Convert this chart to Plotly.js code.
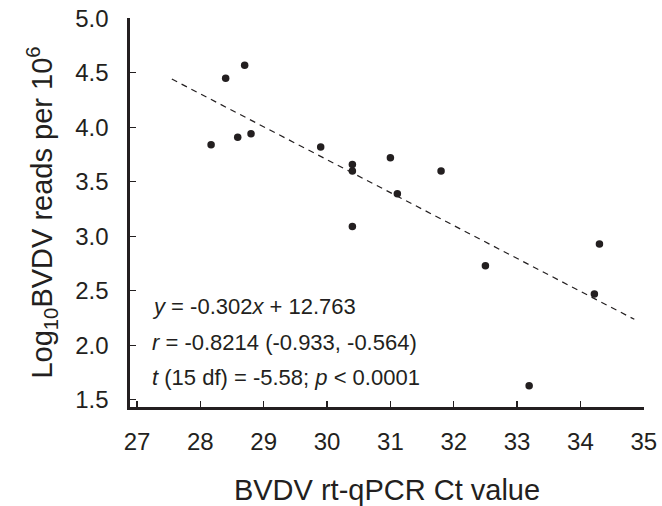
<!DOCTYPE html>
<html>
<head>
<meta charset="utf-8">
<script src="https://cdn.plot.ly/plotly-3.0.1.min.js"></script>
<style>html,body{margin:0;padding:0;background:#fff;}#chart{width:662px;height:506px;}</style>
</head>
<body>
<div id="chart"></div>
<script>
// Data
const ctValues   = [28.17, 28.40, 28.70, 28.59, 28.80, 29.90, 30.40, 30.40, 31.00, 30.40, 31.80, 31.11, 34.30, 32.50, 34.22, 33.19];
const logReads   = [3.84, 4.45, 4.57, 3.91, 3.94, 3.82, 3.66, 3.60, 3.72, 3.09, 3.60, 3.39, 2.93, 2.73, 2.47, 1.63];
const fitSlope = -0.302;
const fitIntercept = 12.763;
const fitXRange = [27.55, 34.85];
const xTicks = [27, 28, 29, 30, 31, 32, 33, 34, 35];
const yTicks = [1.5, 2.0, 2.5, 3.0, 3.5, 4.0, 4.5, 5.0];
const statLines = [
  '<i>y</i> = -0.302<i>x</i> + 12.763',
  '<i>r</i> = -0.8214 (-0.933, -0.564)',
  '<i>t</i> (15 df) = -5.58; <i>p</i> &lt; 0.0001'
];

const fitY = fitXRange.map(x => fitSlope * x + fitIntercept);
const ink = '#231f20';
const fontFam = '"Liberation Sans", Arial, sans-serif';

const traces = [
  {
    x: fitXRange, y: fitY, mode: 'lines', type: 'scatter',
    line: {color: ink, width: 1.2, dash: '6px,5px'},
    hoverinfo: 'skip', showlegend: false
  },
  {
    x: ctValues, y: logReads, mode: 'markers', type: 'scatter',
    marker: {color: ink, size: 7.5, symbol: 'circle'},
    showlegend: false
  }
];

const annYs = [0.258, 0.165, 0.077];
const annotations = statLines.map((t, i) => ({
  text: t, xref: 'paper', yref: 'paper', x: 0.039, y: annYs[i],
  xanchor: 'left', yanchor: 'middle', showarrow: false,
  font: {family: fontFam, size: 22, color: ink}
}));

const layout = {
  width: 662, height: 506,
  margin: {l: 130, r: 18, t: 18, b: 99},
  paper_bgcolor: '#fff', plot_bgcolor: '#fff',
  font: {family: fontFam, color: ink},
  showlegend: false,
  xaxis: {
    range: [26.89, 35.003],
    tickvals: xTicks, ticktext: xTicks.map(String),
    ticks: 'inside', ticklen: 6, tickwidth: 1.2, tickcolor: ink,
    showline: true, linewidth: 2.6, linecolor: ink,
    showgrid: false, zeroline: false,
    tickfont: {size: 24, color: ink},
    ticklabelstandoff: 12,
    title: {text: 'BVDV rt-qPCR Ct value', font: {size: 29, color: ink}, standoff: 36}
  },
  yaxis: {
    range: [1.434, 5.003],
    tickvals: yTicks, ticktext: yTicks.map(v => v.toFixed(1)),
    ticks: 'inside', ticklen: 6, tickwidth: 1.2, tickcolor: ink,
    showline: true, linewidth: 2.6, linecolor: ink,
    showgrid: false, zeroline: false,
    tickfont: {size: 24, color: ink},
    ticklabelstandoff: 14,
    title: {text: 'Log<sub>10</sub>BVDV reads per 10<sup>6</sup>', font: {size: 29, color: ink}, standoff: 14}
  },
  annotations: annotations
};

Plotly.newPlot('chart', traces, layout, {displayModeBar: false, staticPlot: true});
</script>
</body>
</html>
